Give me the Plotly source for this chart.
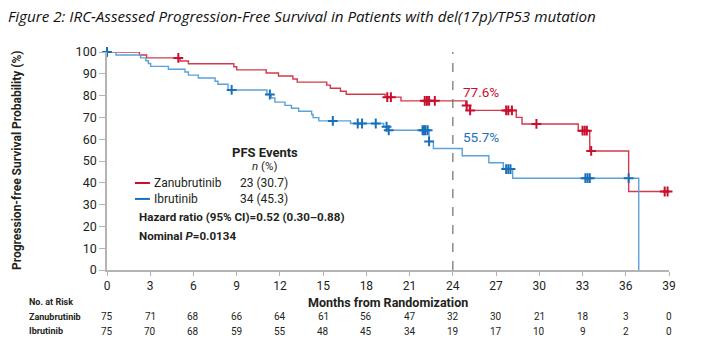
import numpy as np
import plotly.graph_objects as go

# ---------------- data ----------------
month_ticks = list(range(0, 40, 3))
y_ticks = list(range(0, 101, 10))

zanu_times = [0, 2.25, 2.75, 5.07, 5.65, 8.8, 9.0, 11.05, 11.9, 12.9, 13.2, 15.25, 15.5,
              16.2, 16.6, 19.3, 20.4, 24.9, 25.15, 28.4, 28.8, 32.7, 33.5, 36.2]
zanu_surv = [100, 98.6, 97.3, 95.9, 94.6, 93.2, 91.8, 90.4, 89.0, 87.6, 86.2, 84.8, 83.4,
             82.0, 80.6, 79.3, 77.6, 75.5, 73.2, 70.0, 67.0, 63.9, 54.6, 36.0]
zanu_last_time = 39.0
zanu_censor = [4.95, 19.45, 19.7, 22.05, 22.2, 22.35, 22.75, 24.96, 25.2, 27.7, 27.85, 28.1,
               29.8, 33.0, 33.15, 33.3, 33.6, 38.7, 38.9]

ibru_times = [0, 0.62, 2.33, 2.7, 2.87, 3.03, 4.26, 5.41, 5.65, 6.34, 7.5, 7.7, 8.4, 11.1,
              11.4, 11.65, 12.35, 12.8, 13.3, 14.2, 14.3, 14.7, 16.9, 19.2, 19.5, 22.35,
              22.65, 24.65, 26.5, 27.5, 28.15, 36.9]
ibru_surv = [100, 98.6, 97.3, 96.0, 94.7, 93.4, 92.1, 90.8, 89.4, 88.1, 86.6, 85.2, 82.6, 80.5,
             78.9, 77.0, 75.5, 74.2, 72.8, 71.3, 69.9, 68.4, 67.2, 65.7, 64.1, 59.0,
             55.7, 52.4, 49.2, 46.3, 42.1, 0]
ibru_censor = [0, 8.65, 11.3, 15.67, 17.4, 17.7, 18.65, 19.4, 19.55, 21.9, 22.0, 22.1, 22.25,
               22.35, 27.7, 27.85, 28.0, 33.2, 33.35, 33.5, 36.2]

risk_zanu = [75, 71, 68, 66, 64, 61, 56, 47, 32, 30, 21, 18, 3, 0]
risk_ibru = [75, 70, 68, 59, 55, 48, 45, 34, 19, 17, 10, 9, 2, 0]

landmark_month = 24
landmark_zanu = "77.6%"
landmark_ibru = "55.7%"

title = "Figure 2: IRC-Assessed Progression-Free Survival in Patients with del(17p)/TP53 mutation"

# ---------------- styling ----------------
RED_LINE = "#d23a4a"
RED_MARK = "#c8102e"
BLUE_LINE = "#5aa2da"
BLUE_MARK = "#1a6fba"
AXIS = "#b4b4b4"
TXT = "#231f20"
FONT = "Roboto, Liberation Sans, sans-serif"


def surv_at(times, surv, t):
    i = int(np.searchsorted(times, t, side="right")) - 1
    return surv[i]


fig = go.Figure()

# step curves
fig.add_trace(go.Scatter(x=zanu_times + [zanu_last_time], y=zanu_surv + [zanu_surv[-1]],
                         mode="lines", line=dict(color=RED_LINE, width=1.4, shape="hv"),
                         showlegend=False, cliponaxis=False))
fig.add_trace(go.Scatter(x=ibru_times, y=ibru_surv,
                         mode="lines", line=dict(color=BLUE_LINE, width=1.4, shape="hv"),
                         showlegend=False, cliponaxis=False))

# censor marks
fig.add_trace(go.Scatter(x=zanu_censor, y=[surv_at(zanu_times, zanu_surv, t) for t in zanu_censor],
                         mode="markers", marker=dict(symbol="cross-thin", size=7,
                                                     line=dict(color=RED_MARK, width=2)),
                         showlegend=False, cliponaxis=False))
fig.add_trace(go.Scatter(x=ibru_censor, y=[surv_at(ibru_times, ibru_surv, t) for t in ibru_censor],
                         mode="markers", marker=dict(symbol="cross-thin", size=7,
                                                     line=dict(color=BLUE_MARK, width=2)),
                         showlegend=False, cliponaxis=False))

# landmark dashed line
fig.add_shape(type="line", x0=landmark_month, x1=landmark_month, y0=0, y1=101.5,
              xref="x", yref="y", line=dict(color="#6e6e6e", width=1.2, dash="dash"))

ann = []
ann.append(dict(x=24.6, y=81.7, xref="x", yref="y", text=landmark_zanu, showarrow=False,
                xanchor="left", yanchor="middle", font=dict(family=FONT, size=13.5, color=RED_MARK)))
ann.append(dict(x=24.6, y=61.0, xref="x", yref="y", text=landmark_ibru, showarrow=False,
                xanchor="left", yanchor="middle", font=dict(family=FONT, size=13.5, color=BLUE_MARK)))

# legend block
ann.append(dict(x=10.96, y=54.1, xref="x", yref="y", text="<b>PFS Events</b>", showarrow=False,
                xanchor="center", yanchor="middle", font=dict(family=FONT, size=13, color=TXT)))
ann.append(dict(x=10.9, y=47.7, xref="x", yref="y", text="<i>n</i> (%)", showarrow=False,
                xanchor="center", yanchor="middle", font=dict(family=FONT, size=11.5, color=TXT)))
fig.add_shape(type="line", x0=1.94, x1=2.98, y0=39.9, y1=39.9, xref="x", yref="y",
              line=dict(color=RED_MARK, width=2))
fig.add_shape(type="line", x0=1.94, x1=2.98, y0=32.6, y1=32.6, xref="x", yref="y",
              line=dict(color=BLUE_MARK, width=2))
for name, val, yy in [("Zanubrutinib", "23 (30.7)", 39.9), ("Ibrutinib", "34 (45.3)", 32.6)]:
    ann.append(dict(x=3.12, y=yy, xref="x", yref="y", text=name, showarrow=False,
                    xanchor="left", yanchor="middle", font=dict(family=FONT, size=12, color=TXT)))
    ann.append(dict(x=9.09, y=yy, xref="x", yref="y", text=val, showarrow=False,
                    xanchor="left", yanchor="middle", font=dict(family=FONT, size=12, color=TXT)))
ann.append(dict(x=2.08, y=24.3, xref="x", yref="y",
                text="<b>Hazard ratio (95% CI)=0.52 (0.30\u20130.88)</b>", showarrow=False,
                xanchor="left", yanchor="middle", font=dict(family=FONT, size=11.6, color=TXT)))
ann.append(dict(x=2.08, y=15.6, xref="x", yref="y",
                text="<b>Nominal <i>P</i>=0.0134</b>", showarrow=False,
                xanchor="left", yanchor="middle", font=dict(family=FONT, size=11.6, color=TXT)))

# axis titles
ann.append(dict(x=0.5, y=-0.148, xref="paper", yref="paper", text="<b>Months from Randomization</b>",
                showarrow=False, xanchor="center", yanchor="middle",
                font=dict(family=FONT, size=12.5, color=TXT)))
ann.append(dict(x=-0.160, y=0.505, xref="paper", yref="paper",
                text="<b>Progression-free Survival Probability (%)</b>", textangle=-90,
                showarrow=False, xanchor="center", yanchor="middle",
                font=dict(family=FONT, size=12, color=TXT)))

# number at risk table
ann.append(dict(x=-0.142, y=-0.145, xref="paper", yref="paper", text="<b>No. at Risk</b>",
                showarrow=False, xanchor="left", yanchor="middle",
                font=dict(family=FONT, size=9, color=TXT)))
for label, row, yp in [("Zanubrutinib", risk_zanu, -0.215), ("Ibrutinib", risk_ibru, -0.282)]:
    ann.append(dict(x=-0.142, y=yp, xref="paper", yref="paper", text="<b>" + label + "</b>",
                    showarrow=False, xanchor="left", yanchor="middle",
                    font=dict(family=FONT, size=9, color=TXT)))
    for m, v in zip(month_ticks, row):
        ann.append(dict(x=m, y=yp, xref="x", yref="paper", text=str(v), showarrow=False,
                        xanchor="center", yanchor="middle",
                        font=dict(family=FONT, size=10, color=TXT)))

fig.update_layout(
    width=712, height=344,
    margin=dict(l=107, r=43, t=52, b=74),
    paper_bgcolor="white", plot_bgcolor="white",
    title=dict(text="<i>" + title + "</i>", x=8 / 712, xref="container", xanchor="left",
               y=1 - 17 / 344, yref="container", yanchor="middle",
               font=dict(family="Open Sans, Liberation Sans, sans-serif", size=15.2, color="#111")),
    annotations=ann,
    xaxis=dict(range=[0, 39], tickvals=month_ticks, ticks="outside", ticklen=4, tickwidth=1.2,
               tickcolor=AXIS, showline=True, linecolor=AXIS, linewidth=1.6, showgrid=False,
               zeroline=False, tickfont=dict(family=FONT, size=12, color=TXT)),
    yaxis=dict(range=[0, 100], tickvals=y_ticks, ticks="outside", ticklen=6, tickwidth=1.2,
               tickcolor=AXIS, showline=True, linecolor=AXIS, linewidth=1.6, showgrid=False,
               zeroline=False, tickfont=dict(family=FONT, size=12.5, color=TXT)),
    showlegend=False,
)

fig.write_html("out.html")
